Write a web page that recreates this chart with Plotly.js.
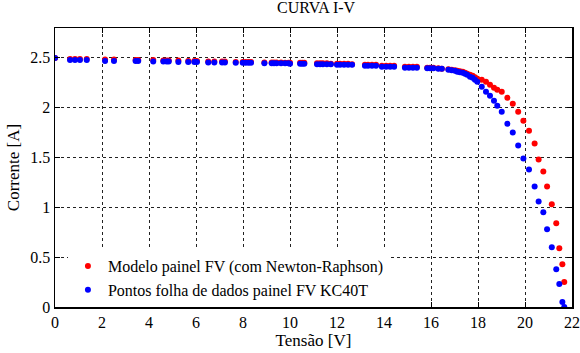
<!DOCTYPE html>
<html>
<head>
<meta charset="utf-8">
<script src="https://cdn.plot.ly/plotly-3.0.1.min.js"></script>
<style>html,body{margin:0;padding:0;background:#fff;}#chart{width:580px;height:353px;}</style>
</head>
<body>
<div id="chart"></div>
<script>
// Voltage (V) of each point (shared by both series)
const tensao = [0.00,0.64,0.85,1.06,1.35,2.13,2.51,3.43,3.54,4.18,4.61,4.75,4.84,5.25,5.67,5.93,6.04,6.52,6.78,7.11,7.23,7.69,7.99,8.11,8.23,8.34,8.91,9.22,9.32,9.43,9.62,9.79,9.93,10.00,10.43,10.52,10.61,11.15,11.28,11.40,11.57,11.74,12.00,12.13,12.30,12.47,12.64,13.19,13.32,13.49,13.66,13.91,14.09,14.26,14.43,14.89,15.06,15.23,15.40,15.84,15.96,16.10,16.31,16.46,16.74,16.88,17.02,17.12,17.23,17.35,17.45,17.54,17.66,17.77,17.87,17.97,18.16,18.34,18.51,18.68,18.82,19.01,19.25,19.48,19.71,19.93,20.17,20.41,20.58,20.78,20.94,21.14,21.33,21.46,21.59,21.67];
// Datasheet current (A) - KC40T
const correnteDados = [2.50,2.48,2.48,2.48,2.48,2.47,2.47,2.47,2.47,2.465,2.465,2.465,2.465,2.46,2.46,2.46,2.46,2.455,2.455,2.455,2.455,2.45,2.45,2.45,2.45,2.45,2.445,2.445,2.445,2.445,2.445,2.445,2.445,2.44,2.44,2.44,2.44,2.435,2.435,2.435,2.435,2.435,2.43,2.43,2.43,2.43,2.43,2.42,2.42,2.42,2.42,2.41,2.41,2.41,2.41,2.40,2.40,2.40,2.40,2.395,2.395,2.395,2.39,2.39,2.38,2.375,2.37,2.36,2.355,2.35,2.34,2.33,2.31,2.30,2.28,2.26,2.21,2.16,2.12,2.07,2.02,1.96,1.84,1.75,1.62,1.49,1.38,1.21,1.06,0.95,0.78,0.60,0.38,0.23,0.05,0.00];
// Model current (A) - Newton-Raphson
const correnteModelo = [2.50,2.49,2.49,2.49,2.49,2.485,2.485,2.48,2.48,2.48,2.475,2.475,2.475,2.475,2.47,2.47,2.47,2.465,2.465,2.465,2.465,2.46,2.46,2.46,2.46,2.46,2.455,2.455,2.455,2.455,2.455,2.45,2.45,2.45,2.45,2.45,2.45,2.445,2.445,2.445,2.445,2.44,2.44,2.44,2.44,2.44,2.435,2.43,2.43,2.43,2.43,2.42,2.42,2.42,2.42,2.41,2.41,2.41,2.41,2.40,2.40,2.40,2.395,2.39,2.385,2.38,2.375,2.37,2.365,2.36,2.35,2.34,2.33,2.32,2.305,2.29,2.28,2.26,2.23,2.20,2.18,2.16,2.10,2.04,1.96,1.87,1.77,1.64,1.48,1.36,1.21,1.03,0.84,0.59,0.43,0.25];

const nomeModelo = 'Modelo painel FV (com Newton-Raphson)';
const nomeDados = 'Pontos folha de dados painel FV KC40T';
const xTicks = [0,2,4,6,8,10,12,14,16,18,20,22];
const yTicks = [0,0.5,1,1.5,2,2.5];

const serif = 'Liberation Serif';

const traces = [
  {x: tensao, y: correnteModelo, name: nomeModelo, mode: 'markers', type: 'scatter',
   marker: {color: '#ff0000', size: 6}},
  {x: tensao, y: correnteDados, name: nomeDados, mode: 'markers', type: 'scatter',
   marker: {color: '#0000ff', size: 6}}
];

const axisCommon = {
  showline: true, linecolor: '#000', linewidth: 1.5, mirror: 'ticks',
  ticks: 'inside', ticklen: 5, tickcolor: '#000', tickwidth: 1,
  showgrid: true, gridcolor: '#222', gridwidth: 1, griddash: '3px,3px',
  zeroline: false, ticklabeloverflow: 'allow',
  tickfont: {family: serif, size: 16, color: '#000'}
};

const layout = {
  width: 580, height: 353,
  font: {family: serif, size: 16, color: '#000'},
  margin: {l: 55, r: 8, t: 28, b: 46},
  paper_bgcolor: '#fff', plot_bgcolor: '#fff',
  title: {text: 'CURVA I-V', font: {family: serif, size: 16, color: '#000'}, x: 0.545, xanchor: 'center', y: 0.98, yanchor: 'middle'},
  xaxis: Object.assign({}, axisCommon, {range: [0, 22], tickvals: xTicks, ticktext: xTicks.map(String),
    title: {text: 'Tensão [V]', font: {family: serif, size: 17, color: '#000'}, standoff: 4}}),
  yaxis: Object.assign({}, axisCommon, {range: [0, 2.8], tickvals: yTicks, ticktext: yTicks.map(String),
    title: {text: 'Corrente [A]', font: {family: serif, size: 17, color: '#000'}, standoff: 6}}),
  legend: {x: 0.025, y: 0.0, xanchor: 'left', yanchor: 'bottom', bgcolor: '#fff', borderwidth: 0,
    font: {family: serif, size: 16, color: '#000'}, tracegroupgap: 0},
  showlegend: true
};

Plotly.newPlot('chart', traces, layout, {displayModeBar: false, staticPlot: true});
</script>
</body>
</html>
